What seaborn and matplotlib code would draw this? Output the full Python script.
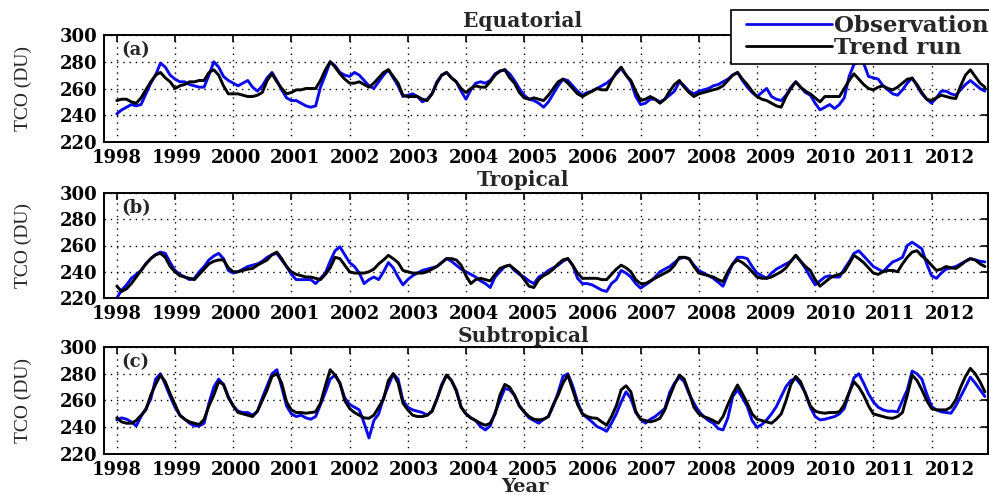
import numpy as np
import pandas as pd
import matplotlib
matplotlib.use("Agg")
import matplotlib.pyplot as plt
from matplotlib.lines import Line2D
from matplotlib.legend_handler import HandlerLine2D
from matplotlib.transforms import ScaledTranslation
import seaborn as sns

# ---------------- data (monthly, Jan 1998 - Dec 2012) ----------------
eq_obs = [
    241, 244, 246, 248, 247, 248, 256, 264, 270, 279, 276, 270,
    267, 265, 265, 263, 262, 261, 261, 270, 280, 276, 269, 266,
    264, 262, 264, 266, 261, 258, 262, 268, 272, 266, 259, 253,
    251, 251, 249, 247, 246, 247, 261, 270, 280, 277, 272, 270,
    269, 272, 270, 266, 262, 260, 265, 270, 274, 268, 262, 254,
    255, 256, 254, 250, 252, 256, 265, 270, 272, 268, 265, 258,
    252, 259, 264, 265, 264, 266, 271, 273, 274, 271, 266, 260,
    255, 252, 251, 249, 246, 250, 256, 262, 267, 266, 262, 258,
    255, 257, 258, 260, 262, 264, 267, 271, 275, 270, 265, 254,
    248, 249, 252, 252, 250, 252, 255, 258, 265, 262, 258, 256,
    258, 259, 260, 262, 263, 265, 267, 270, 272, 266, 261, 257,
    254, 257, 260, 254, 252, 251, 255, 261, 265, 261, 257, 255,
    249, 244, 246, 248, 245, 248, 253, 269, 278, 280, 279, 269,
    268, 267, 262, 259, 256, 255, 259, 264, 268, 262, 256, 252,
    249, 253, 258, 258, 256, 255, 259, 263, 266, 263, 260, 258,
]
eq_trend = [
    251, 252, 252, 250, 249, 253, 259, 265, 270, 272, 268, 265,
    260, 262, 263, 265, 265, 266, 266, 272, 274, 270, 262, 256,
    256, 256, 255, 254, 254, 255, 257, 266, 271, 265, 260, 256,
    257, 259, 259, 260, 260, 260, 266, 274, 280, 276, 271, 267,
    264, 264, 265, 263, 261, 264, 268, 272, 274, 269, 264, 255,
    254, 254, 254, 252, 251, 256, 264, 270, 272, 268, 265, 260,
    257, 260, 262, 261, 261, 265, 270, 273, 274, 268, 264, 257,
    253, 252, 253, 252, 251, 255, 260, 265, 267, 264, 260, 256,
    254, 256, 258, 260, 259, 259, 266, 272, 276, 270, 266, 258,
    251, 252, 254, 252, 249, 252, 258, 263, 266, 261, 257, 254,
    256, 257, 258, 259, 260, 262, 266, 270, 272, 267, 263, 258,
    254, 252, 251, 249, 247, 246, 254, 260, 265, 261, 258, 256,
    253, 250, 254, 254, 254, 254, 260, 266, 271, 267, 263, 260,
    259, 261, 262, 260, 259, 261, 264, 267, 267.5, 263, 257, 252,
    251, 253, 255, 254, 253, 252.5, 262, 270, 274, 269, 264, 261,
]
tr_obs = [
    220, 226, 230, 235, 238, 241, 246, 250, 253, 255, 254, 247,
    241, 238, 236, 234, 235, 240, 244, 249, 252, 254, 250, 241,
    239, 240, 242, 244, 245, 246, 248, 251, 253, 254, 249, 244,
    238, 234, 234, 234, 234, 231, 235, 239, 248, 256, 259, 253,
    247, 244, 239, 231, 234, 236, 234, 240, 247, 243, 236, 230,
    234, 237, 239, 241, 242, 243, 244, 247, 250, 248, 245, 242,
    240, 238, 236, 233, 231, 228, 236, 240, 244, 245, 241, 238,
    236, 233, 231, 236, 238, 241, 243, 245, 248, 250, 245, 235,
    231, 231, 230, 228, 226, 225, 231, 234, 241, 239, 236, 231,
    227.5, 230, 232.5, 236, 240, 242, 244, 247, 250, 251, 250, 245,
    241, 239, 237, 235, 232, 229, 238, 246, 251, 251, 250, 244,
    239, 237, 235, 239, 242, 244, 246, 248, 252.5, 248, 242.5, 236,
    230, 233, 236, 237, 236, 236, 242, 247.5, 254, 256, 252, 248,
    244, 242, 240, 244, 247.5, 249, 251, 260, 262.5, 260, 257.5, 246,
    237, 235, 239, 242, 243, 244, 246, 248, 250, 249, 248, 247.5,
]
tr_trend = [
    229, 225, 227, 231, 236, 241, 246, 250, 253, 254, 251, 244,
    240, 237, 236, 235, 234, 238, 242, 246, 248, 249, 249, 243,
    240, 240, 241, 242, 242.5, 245, 247, 249, 253, 255, 250, 244,
    240, 238, 237, 236, 236, 235, 234, 238, 243, 251, 250, 245,
    240, 239, 239, 239, 240, 242, 246, 249, 252.5, 250, 247, 241,
    240, 239, 239, 239, 240, 242, 244, 247, 250, 250, 249, 245,
    237, 231, 234, 235, 234, 233, 238, 242.5, 244, 245, 242, 239,
    234, 229, 228, 234, 237, 239, 242, 246, 249, 250, 245, 239,
    235, 235, 235, 235, 234, 234, 238, 242, 245, 243, 240, 234,
    231, 231, 233, 235, 237, 239, 241, 245, 251, 251, 250, 244,
    239, 238, 237, 236, 234, 232.5, 240, 246, 249, 247, 244, 240,
    236, 235, 235, 236, 238, 240, 243, 248, 252.5, 248, 244, 241,
    234, 229, 232, 235, 237, 238, 240, 246, 252.5, 250, 247, 243,
    239, 238, 240, 241, 241, 240, 246, 251, 255, 256, 252, 249,
    245, 241, 242, 244, 243, 242.5, 245, 248, 250, 249, 246, 244,
]
st_obs = [
    245.5, 247, 246, 244, 241, 248, 254, 261, 276, 280, 272, 263,
    255, 249, 246, 243, 241, 241, 243, 258, 270, 276, 272, 263,
    256, 252, 251, 251, 249, 252, 262, 271, 280, 283, 270, 256,
    250, 248, 249, 247, 246, 248, 257, 266, 276, 279, 273, 262,
    257, 255, 253, 243, 232, 245, 250, 262, 271, 280, 276, 260,
    255, 253, 252, 251, 249, 252, 261, 272, 279, 275, 268, 255,
    250, 247, 245, 240.5, 238, 241, 251, 260, 269, 268, 264, 256,
    251.5, 247, 245, 243, 246, 248, 256, 266, 278, 280, 271, 259,
    250, 247, 244, 240.5, 239, 237, 243, 250, 259, 266.5, 261.5, 251,
    246, 243, 246, 248, 251, 254, 266, 273, 277.5, 274, 265, 258,
    252, 248, 245, 243, 239, 238, 247, 263, 268, 262, 255.5, 245,
    240, 242, 245.5, 250, 255.5, 263, 270.5, 275, 276.5, 272, 265.5, 255,
    248, 245.5, 246, 247, 248, 250, 254, 265.5, 277, 280, 273, 265,
    259, 255, 253, 252, 252, 251.5, 260, 268, 282, 280, 276, 265,
    255.5, 253, 251.5, 251, 250.5, 256, 263, 270, 277.5, 273, 268, 263,
]
st_trend = [
    247, 244, 243, 243, 245, 249, 253, 264, 272, 279, 274, 265,
    257, 249, 246, 244, 243, 242, 246, 256, 264, 274, 272, 262,
    256, 251, 250, 249, 248, 252, 260, 268, 278, 280, 273, 259,
    253, 251, 251, 250.5, 251, 251.5, 258, 271, 283, 279, 273, 260,
    254, 251, 249, 247, 246.7, 249, 255, 261, 275, 280, 273, 258,
    253, 249, 248, 248, 249, 252, 261, 271, 279, 275, 267, 255,
    250, 247, 245, 243, 241.5, 243, 250, 264, 272, 270, 264, 256,
    251.5, 248, 246, 245.5, 246, 248, 257, 264, 273, 279, 268, 257,
    250, 248, 247, 246.7, 244, 241.5, 248, 256, 268, 271, 266.5, 252,
    246, 245, 244, 245, 246.7, 253, 263, 272, 279, 276, 266, 255,
    250, 248, 246.7, 245, 243, 248, 257, 265, 271.6, 265, 258, 250,
    246, 245, 244, 243, 246, 250, 260, 272, 278, 274, 265, 256,
    252, 251, 250.5, 251, 251, 251.5, 257, 266, 274, 270, 264, 256,
    250, 249, 248, 247, 246.7, 248, 251, 264, 279, 275, 268, 260,
    254, 253, 253, 253, 255, 260.5, 270, 278, 284, 280, 274, 266.5,
]

titles = ["Equatorial", "Tropical", "Subtropical"]
panel_tags = ["(a)", "(b)", "(c)"]
series_names = ["Observation", "Trend run"]
year_ticks = list(range(1998, 2013))
tco_ticks = [220, 240, 260, 280, 300]

panels = [(eq_obs, eq_trend), (tr_obs, tr_trend), (st_obs, st_trend)]
for o, tr in panels:
    assert len(o) == 180 and len(tr) == 180, (len(o), len(tr))

months = np.arange(180)
dec_year = 1998 + months / 12.0

# ---------------- style ----------------
sns.set_theme(style="white")
plt.rcParams["font.family"] = ["DejaVu Serif"]
plt.rcParams["font.weight"] = "bold"
plt.rcParams["axes.edgecolor"] = "black"
plt.rcParams["xtick.color"] = "black"
plt.rcParams["ytick.color"] = "black"

W, H = 989, 495
fig = plt.figure(figsize=(W / 100, H / 100), dpi=100)

# axes boxes in pixel (left, top, right, bottom)
boxes = [(104, 35, 988, 142), (104, 193, 988, 298), (104, 347, 988, 454)]
title_y = [21, 180, 336]
palette = {"Observation": "#0a0aeb", "Trend run": "black"}

axes = []
for k, ((obs, trend), (l, t, r, b)) in enumerate(zip(panels, boxes)):
    ax = fig.add_axes([l / W, 1 - b / H, (r - l) / W, (b - t) / H])
    axes.append(ax)
    df = pd.DataFrame({"Year": dec_year, "Observation": obs, "Trend run": trend})
    long = df.melt(id_vars="Year", var_name="Series", value_name="TCO")
    sns.lineplot(data=long, x="Year", y="TCO", hue="Series",
                 hue_order=series_names, palette=palette,
                 linewidth=2.1, ax=ax, legend=False)
    ax.set_xlim(1997.78, 2012.97)
    ax.set_ylim(220, 300)
    ax.set_xticks(year_ticks)
    ax.set_xticklabels([str(y) for y in year_ticks])
    ax.set_yticks(tco_ticks)
    ax.set_xlabel("")
    ax.set_ylabel("")
    ax.grid(True, color="black", linestyle=(0, (1, 3.5)), linewidth=1.0)
    ax.tick_params(axis="both", direction="in", top=True, right=True,
                   length=5, width=1.2, labelsize=13, pad=5)
    # the tick labels drift slightly to the right of their ticks in the source
    for i, lbl in enumerate(ax.get_xticklabels()):
        lbl.set_transform(lbl.get_transform() +
                          ScaledTranslation(i * 1.3 / 100, 0, fig.dpi_scale_trans))
    for sp in ax.spines.values():
        sp.set_visible(True)
        sp.set_color("black")
        sp.set_linewidth(1.4)
    ax.text(0.019, 0.86, panel_tags[k], transform=ax.transAxes,
            fontsize=13, fontweight="bold", va="center", ha="left")
    fig.text(523 / W, 1 - title_y[k] / H, titles[k], fontsize=14.5,
             fontweight="bold", ha="center", va="center")
    fig.text(23 / W, 1 - ((t + b) / 2) / H, "TCO (DU)", rotation=90,
             family="Liberation Serif", fontweight="normal", fontsize=14,
             ha="center", va="center")

fig.text(525 / W, 1 - 492 / H, "Year", fontsize=14, fontweight="bold",
         ha="center", va="baseline")

fs_leg = 16.5
handles = [Line2D([], [], color=palette[n], linewidth=2.0) for n in series_names]
leg = axes[0].legend(handles, series_names, loc="upper left",
                     bbox_to_anchor=(731 / W, 1 - 10 / H),
                     bbox_transform=fig.transFigure, frameon=True,
                     fancybox=False, framealpha=1, edgecolor="black",
                     borderaxespad=0, borderpad=0.22, handlelength=4.2,
                     handletextpad=0.08, labelspacing=0.0,
                     handler_map={Line2D: HandlerLine2D(xpad=0.45)},
                     prop={"family": "DejaVu Serif", "weight": "bold", "size": fs_leg})
leg.get_frame().set_linewidth(1.2)
leg.set_zorder(10)

fig.savefig("out.png", dpi=100)
